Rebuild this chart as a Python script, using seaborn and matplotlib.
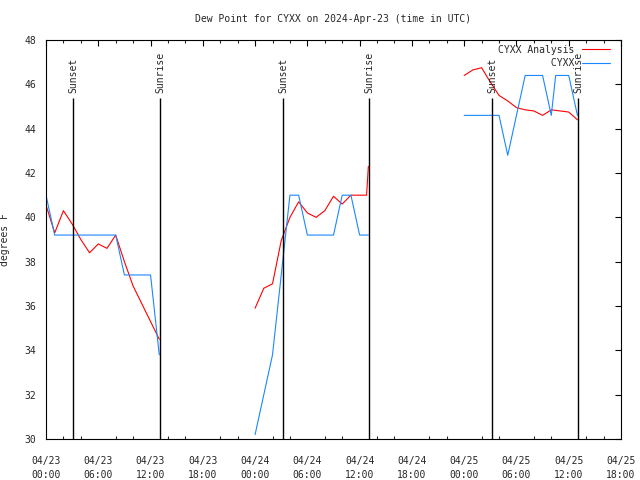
import numpy as np
import pandas as pd
import matplotlib
matplotlib.use("Agg")
import matplotlib.pyplot as plt
import seaborn as sns
from matplotlib.lines import Line2D

# hours since 2024-04-23 00:00 UTC
obs_hours = [0, 1, 2, 3, 4, 5, 6, 7, 8, 9, 10, 11, 12, 13,
             24, 25, 26, 27, 28, 29, 30, 31, 32, 33, 34, 35, 36, 37,
             48, 49, 50, 51, 52, 53, 54, 55, 56, 57, 58, 58.5, 59, 60, 61]
obs_seg = [0] * 14 + [1] * 14 + [2] * 15
obs_dew = [41.0, 39.2, 39.2, 39.2, 39.2, 39.2, 39.2, 39.2, 39.2, 37.4, 37.4, 37.4, 37.4, 33.8,
           30.2, 32.0, 33.8, 37.4, 41.0, 41.0, 39.2, 39.2, 39.2, 39.2, 41.0, 41.0, 39.2, 39.2,
           44.6, 44.6, 44.6, 44.6, 44.6, 42.8, 44.6, 46.4, 46.4, 46.4, 44.6, 46.4, 46.4, 46.4, 44.6]

ana_hours = [0, 1, 2, 3, 4, 5, 6, 7, 8, 9, 10, 11, 12, 13,
             24, 25, 26, 27, 28, 29, 30, 31, 32, 33, 34, 35, 36, 36.8, 37,
             48, 49, 50, 51, 52, 53, 54, 55, 56, 57, 58, 59, 60, 61]
ana_seg = [0] * 14 + [1] * 15 + [2] * 14
ana_dew = [40.55, 39.3, 40.3, 39.7, 39.0, 38.4, 38.8, 38.6, 39.2, 38.0, 36.9, 36.1, 35.3, 34.5,
           35.9, 36.8, 37.0, 38.95, 40.0, 40.7, 40.2, 40.0, 40.3, 40.95, 40.6, 41.0, 41.0, 41.0, 42.3,
           46.4, 46.65, 46.75, 46.1, 45.5, 45.25, 44.95, 44.85, 44.8, 44.6, 44.85, 44.8, 44.75, 44.4]

sun_events = [3.13, 13.13, 27.2, 37.12, 51.23, 61.07]
sun_labels = ["Sunset", "Sunrise", "Sunset", "Sunrise", "Sunset", "Sunrise"]

tick_hours = list(range(0, 67, 6))
tick_labels = ["04/23\n00:00", "04/23\n06:00", "04/23\n12:00", "04/23\n18:00",
               "04/24\n00:00", "04/24\n06:00", "04/24\n12:00", "04/24\n18:00",
               "04/25\n00:00", "04/25\n06:00", "04/25\n12:00", "04/25\n18:00"]

red = "#ff0000"
blue = "#1a88ff"

sns.set_style("white")
plt.rcParams["font.family"] = ["DejaVu Sans Mono"]
plt.rcParams["font.size"] = 7

obs = pd.DataFrame({"hour": obs_hours, "dew": obs_dew, "seg": obs_seg})
ana = pd.DataFrame({"hour": ana_hours, "dew": ana_dew, "seg": ana_seg})

fig = plt.figure(figsize=(6.4, 4.8), dpi=100)
ax = fig.add_axes([46 / 640, 1 - 439 / 480, 575 / 640, 399 / 480])

sns.lineplot(data=ana, x="hour", y="dew", units="seg", estimator=None, sort=False,
             color=red, lw=0.8, ax=ax)
sns.lineplot(data=obs, x="hour", y="dew", units="seg", estimator=None, sort=False,
             color=blue, lw=0.8, ax=ax)

for h, lab in zip(sun_events, sun_labels):
    ax.vlines(h, 30, 45.38, color="black", lw=1)
    ax.text(h, 45.62, lab, rotation=90, ha="center", va="bottom", fontsize=7)

ax.set_xlim(0, 66)
ax.set_ylim(30, 48)
ax.set_xticks(tick_hours)
ax.set_xticklabels(tick_labels, linespacing=1.5)
ax.set_xticks(np.arange(0, 67, 2), minor=True)
ax.set_yticks(np.arange(30, 49, 2))
ax.tick_params(which="major", direction="in", length=4, width=0.8, top=True, right=True,
               color="black", labelsize=7)
ax.tick_params(which="minor", direction="in", length=2, width=0.8, top=True, bottom=True)
ax.tick_params(axis="x", pad=12.5)
ax.tick_params(axis="y", pad=7)
for s in ax.spines.values():
    s.set_color("black")
    s.set_linewidth(0.8)

ax.set_xlabel("")
ax.set_ylabel("degrees F", fontsize=7)
ax.yaxis.set_label_coords(-0.063, 0.5)

handles = [Line2D([], [], color=red, lw=0.8), Line2D([], [], color=blue, lw=0.8)]
ax.legend(handles, ["CYXX Analysis", "         CYXX"], loc="upper right",
          bbox_to_anchor=(0.981, 0.988), frameon=False, markerfirst=False,
          borderpad=0, borderaxespad=0, handlelength=2.9, handletextpad=0.8,
          labelspacing=0.34, fontsize=7)

fig.text(333 / 640, 1 - 19 / 480, "Dew Point for CYXX on 2024-Apr-23 (time in UTC)",
         ha="center", va="center", fontsize=7)

fig.savefig("out.png", dpi=100)
